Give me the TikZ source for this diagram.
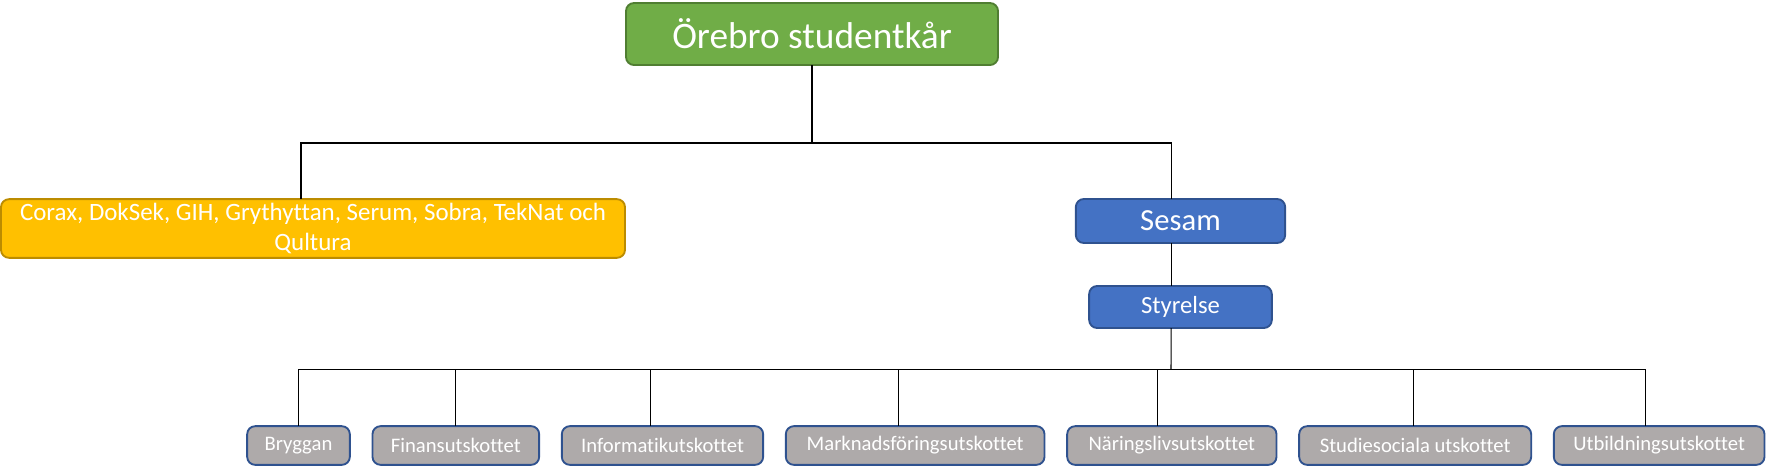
\documentclass[tikz,border=0pt]{standalone}
\usepackage{fontspec}
\setmainfont{Carlito}[Ligatures={NoCommon}]
\usepackage{tikz}
\usetikzlibrary{positioning}
\definecolor{orgreen}{RGB}{112,173,71}
\definecolor{orgreenline}{RGB}{80,126,50}
\definecolor{oryellow}{RGB}{255,192,0}
\definecolor{oryellowline}{RGB}{188,140,0}
\definecolor{orblue}{RGB}{68,114,196}
\definecolor{orblueline}{RGB}{47,82,143}
\definecolor{orgray}{RGB}{174,170,170}

\begin{document}
\begin{tikzpicture}[
  x=0.75pt, y=-0.75pt,
  node distance=17pt,
  unit/.style={
    draw, rounded corners=6pt, line width=1.4pt, outer sep=0pt,
    text=white, align=center, inner sep=0pt
  },
  committee/.style={
    unit, fill=orgray, draw=orblueline,
    minimum height=29pt, font=\fontsize{15.5}{18}\selectfont
  },
  link/.style={line width=0.8pt, color=black},
]
\useasboundingbox (0,0) rectangle (1767,472);

% Units
\node[unit, fill=orgreen, draw=orgreenline,
  minimum width=279pt, minimum height=46.5pt,
  font=\fontsize{28}{34}\selectfont] (kar) at (812,34) {Örebro studentkår};
\node[unit, fill=oryellow, draw=oryellowline,
  minimum width=468pt, minimum height=44pt,
  font=\fontsize{18.7}{22.5}\selectfont] (clubs) at (313,228.5) {%
  Corax, DokSek, GIH, Grythyttan, Serum, Sobra, TekNat och\\Qultura};
\node[unit, fill=orblue, draw=orblueline,
  minimum width=157pt, minimum height=33pt,
  font=\fontsize{23}{27}\selectfont] (sesam) at (1180.5,221) {Sesam};
\node[unit, fill=orblue, draw=orblueline,
  minimum width=137pt, minimum height=31.5pt,
  font=\fontsize{18.5}{22}\selectfont] (board) at (1180.5,307) {Styrelse};

% Committees
\node[committee, minimum width=77pt] (bryggan) at (298.5,445.5) {Bryggan};
\node[committee, minimum width=125pt, right=of bryggan] (finans) {Finansutskottet};
\node[committee, minimum width=151pt, right=of finans] (info) {Informatikutskottet};
\node[committee, minimum width=194pt, right=of info] (marknad) {Marknadsföringsutskottet};
\node[committee, minimum width=157pt, right=of marknad] (naring) {Näringslivsutskottet};
\node[committee, minimum width=174pt, right=of naring] (studie) {Studiesociala utskottet};
\node[committee, minimum width=158pt, right=of studie] (utbild) {Utbildningsutskottet};

% Bus points
\coordinate (bus1) at (814,143);
\coordinate (bus2) at (1171,369.5);

% Links
\draw[link] (kar.south) -- (kar.south |- bus1);
\draw[link] ([xshift=-9pt]clubs.north) |- (bus1) -| ([xshift=-7pt]sesam.north);
\draw[link] ([xshift=-7pt]sesam.south) -- ([xshift=-7pt]board.north);
\draw[link] ([xshift=-7pt]board.south) -- (bus2);
\draw[link] (bryggan.north) |- (bus2) -| ([xshift=-10pt]utbild.north);
\foreach \n/\s in {finans/0pt, info/-9pt, marknad/-12.5pt, naring/-11pt, studie/-1pt}
  \draw[link] ([xshift=\s]\n.north) |- (bus2);

\end{tikzpicture}
\end{document}
